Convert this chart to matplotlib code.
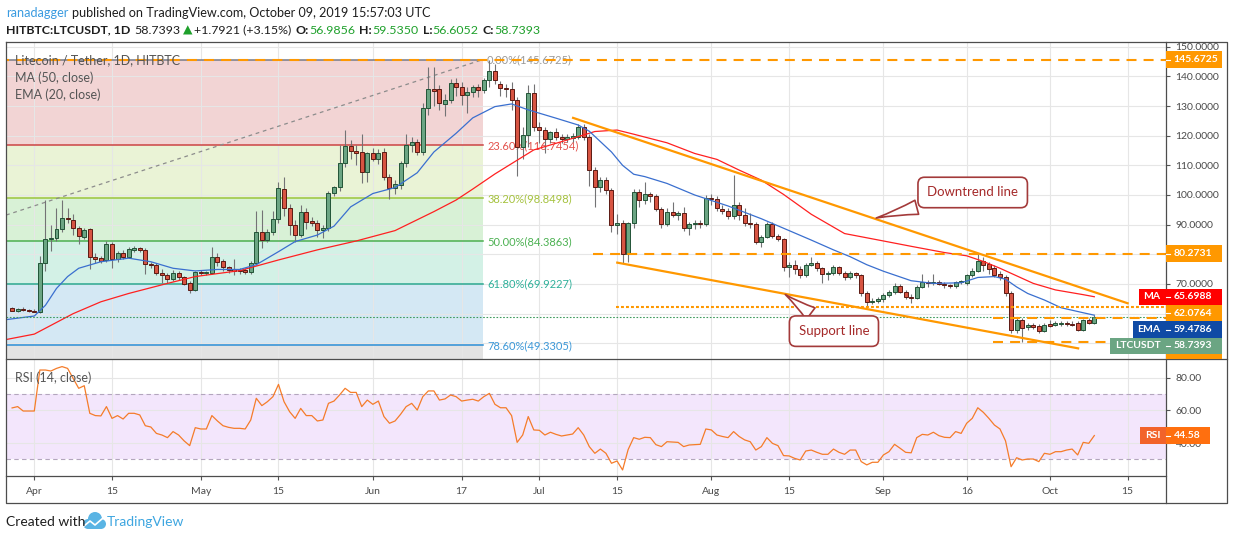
import matplotlib
matplotlib.use("Agg")
import matplotlib.pyplot as plt
import matplotlib.dates as mdates
from matplotlib.patches import Rectangle, Circle
import numpy as np
import pandas as pd

W, H = 1234, 540
plt.rcParams['font.family'] = ['Lato', 'DejaVu Sans']

# ---------------- values ----------------
first_day = "2019-03-28"   # one candle per day up to 2019-10-09

opens = [61.8, 61.0, 61.6, 61.2, 61.0, 60.7, 77.0, 85.2, 85.6, 88.4,
         92.3, 91.6, 88.8, 86.0, 88.4, 79.0, 78.6, 78.1, 83.4, 78.3,
         80.6, 79.2, 81.5, 82.0, 81.5, 76.7, 76.4, 73.8, 73.0, 71.7,
         73.8, 72.2, 70.2, 68.0, 74.1, 73.6, 73.8, 79.2, 77.9, 75.6,
         74.9, 74.7, 74.7, 74.1, 77.2, 87.6, 84.8, 87.6, 91.8, 101.9,
         95.5, 89.9, 86.5, 94.4, 91.4, 90.7, 88.2, 88.8, 100.6, 102.6,
         110.7, 116.6, 114.8, 114.6, 107.9, 114.0, 112.3, 114.6, 106.2, 102.2,
         103.4, 110.7, 116.9, 118.0, 114.6, 129.2, 135.6, 135.6, 130.7, 132.0,
         137.6, 136.5, 133.7, 134.8, 136.3, 135.4, 138.8, 141.9, 137.4, 136.0,
         135.7, 132.0, 116.3, 120.2, 134.3, 123.0, 121.8, 118.8, 121.3, 119.7,
         119.0, 119.3, 119.7, 122.8, 119.4, 108.4, 102.8, 105.0, 101.7, 89.9,
         90.4, 80.1, 90.4, 101.1, 98.3, 100.3, 99.8, 95.3, 90.2, 94.4,
         93.3, 94.0, 88.8, 90.2, 90.4, 90.2, 98.9, 98.5, 95.3, 94.6,
         92.9, 96.6, 93.3, 90.4, 90.1, 84.3, 86.0, 90.2, 86.2, 85.0,
         75.8, 76.4, 74.9, 73.0, 76.4, 77.2, 75.3, 73.4, 73.6, 75.6,
         73.8, 72.2, 73.6, 73.0, 66.8, 64.0, 64.4, 64.8, 66.3, 67.4,
         69.3, 67.4, 65.7, 65.2, 69.1, 70.8, 70.2, 70.8, 70.0, 69.5,
         69.3, 70.7, 70.2, 73.0, 74.5, 77.9, 76.7, 75.3, 73.4, 72.2,
         66.8, 54.5, 57.9, 55.4, 56.2, 55.8, 54.3, 56.5, 56.2, 56.6,
         56.8, 56.6, 57.0, 54.5, 57.7, 56.9856]
highs = [62.3, 62.0, 62.2, 61.6, 61.5, 79.5, 98.3, 90.0, 95.5, 98.3,
         95.5, 93.5, 89.5, 89.0, 89.0, 80.5, 79.5, 84.5, 84.3, 81.2,
         81.5, 82.5, 82.8, 82.6, 82.0, 77.5, 77.0, 75.0, 73.8, 74.8,
         74.5, 72.8, 71.0, 74.5, 74.8, 74.5, 82.5, 80.5, 78.5, 76.2,
         78.5, 75.5, 75.3, 77.8, 94.5, 95.0, 88.5, 94.5, 104.5, 106.0,
         97.0, 91.5, 96.5, 95.5, 92.5, 91.5, 90.0, 101.5, 103.0, 117.0,
         121.9, 118.5, 117.0, 120.5, 114.5, 116.0, 115.5, 116.0, 107.0, 105.0,
         111.5, 120.5, 119.5, 119.0, 131.0, 143.3, 143.3, 137.0, 134.0, 139.0,
         139.5, 138.0, 136.5, 137.0, 137.5, 139.5, 145.6, 144.0, 138.5, 137.5,
         138.0, 133.0, 123.0, 137.1, 137.5, 124.5, 123.0, 121.5, 122.5, 120.5,
         120.5, 121.0, 123.8, 124.0, 120.5, 109.5, 106.0, 106.0, 102.5, 93.5,
         91.5, 91.0, 102.0, 102.0, 104.5, 101.0, 100.5, 96.0, 95.5, 97.5,
         94.5, 96.0, 91.0, 91.5, 91.5, 100.0, 100.5, 99.5, 96.5, 95.5,
         106.7, 97.5, 95.5, 94.0, 91.0, 86.5, 91.0, 90.8, 87.0, 85.5,
         77.5, 78.0, 76.0, 77.0, 79.0, 77.8, 75.8, 74.5, 76.5, 76.0,
         74.5, 74.5, 74.0, 73.5, 67.5, 65.2, 65.5, 67.0, 68.0, 70.5,
         70.0, 68.0, 66.5, 69.5, 73.5, 71.5, 73.5, 71.5, 70.8, 70.0,
         71.0, 71.5, 73.5, 75.5, 80.6, 79.0, 77.5, 76.5, 74.5, 73.0,
         67.5, 58.5, 58.5, 57.0, 57.0, 56.5, 56.8, 58.0, 57.5, 57.5,
         57.5, 57.5, 57.6, 58.3, 58.5, 59.535]
lows = [60.8, 60.7, 60.9, 60.6, 60.4, 60.2, 74.5, 81.0, 84.5, 87.5,
        90.5, 86.5, 83.5, 85.0, 75.0, 77.0, 77.0, 77.5, 75.3, 77.5,
        78.5, 78.8, 80.7, 80.8, 73.5, 75.5, 73.0, 70.2, 70.5, 71.0,
        71.5, 69.5, 66.8, 67.5, 73.0, 73.0, 73.5, 76.0, 74.5, 73.8,
        73.0, 73.5, 73.2, 73.5, 76.5, 82.0, 84.0, 86.5, 90.5, 93.0,
        86.5, 84.2, 85.8, 88.5, 89.5, 86.0, 85.5, 88.0, 99.5, 101.5,
        109.5, 112.0, 110.0, 104.0, 104.5, 111.5, 110.5, 105.0, 98.5, 100.5,
        102.0, 109.5, 114.5, 113.5, 113.5, 127.0, 130.0, 128.5, 126.5, 131.0,
        133.5, 130.5, 127.5, 133.0, 133.0, 134.5, 136.5, 137.5, 133.5, 133.0,
        128.5, 106.5, 112.0, 116.3, 121.5, 117.5, 114.0, 117.5, 118.5, 117.5,
        118.0, 118.0, 119.0, 118.5, 103.0, 96.0, 101.0, 100.5, 87.5, 87.0,
        77.2, 77.5, 89.0, 96.0, 97.0, 97.5, 94.5, 89.0, 89.5, 92.5,
        91.5, 88.0, 86.5, 88.5, 89.0, 89.5, 96.5, 94.5, 93.5, 92.0,
        92.0, 91.5, 89.5, 89.0, 83.5, 82.5, 85.5, 85.5, 84.5, 74.5,
        72.5, 73.5, 72.0, 72.5, 76.0, 74.5, 70.5, 71.5, 73.0, 73.0,
        71.5, 71.8, 72.0, 66.0, 62.4, 63.2, 63.5, 64.0, 65.5, 66.5,
        66.8, 65.0, 63.5, 64.8, 68.5, 69.0, 69.5, 69.5, 68.5, 68.5,
        68.8, 70.0, 69.8, 72.5, 74.0, 74.5, 73.5, 72.5, 71.5, 66.0,
        53.5, 53.5, 50.6, 54.5, 54.8, 53.5, 53.8, 55.5, 55.8, 56.0,
        56.0, 56.0, 54.0, 54.0, 56.6, 56.6052]
closes = [61.0, 61.6, 61.2, 61.0, 60.7, 77.0, 85.2, 85.6, 88.4, 92.1,
          91.8, 88.8, 86.2, 88.2, 79.0, 78.3, 77.9, 83.4, 78.3, 80.6,
          79.0, 81.7, 82.0, 81.5, 76.7, 76.4, 73.8, 73.0, 71.7, 73.8,
          72.2, 70.0, 68.0, 74.1, 73.6, 74.1, 79.2, 77.5, 75.6, 74.7,
          74.5, 74.5, 74.1, 77.2, 87.6, 84.8, 87.6, 91.8, 102.2, 95.5,
          89.9, 86.5, 94.4, 91.0, 90.7, 88.2, 88.8, 100.6, 102.6, 110.7,
          116.6, 114.8, 114.3, 107.9, 114.0, 112.3, 114.3, 106.2, 102.2, 103.8,
          110.7, 116.9, 118.0, 114.6, 129.2, 135.6, 135.2, 130.9, 132.0, 137.6,
          136.5, 133.7, 134.8, 136.3, 135.4, 138.8, 141.9, 138.8, 136.0, 135.7,
          132.0, 116.3, 120.2, 134.3, 123.0, 121.8, 118.8, 121.3, 119.7, 119.0,
          119.7, 120.0, 122.8, 119.4, 108.4, 102.8, 105.0, 101.7, 89.9, 90.7,
          80.1, 90.4, 101.1, 98.3, 100.3, 99.8, 95.3, 90.2, 94.4, 93.3,
          94.0, 88.8, 90.2, 90.4, 90.2, 98.9, 98.5, 95.5, 94.6, 92.9,
          96.6, 93.3, 90.4, 90.1, 84.3, 86.0, 90.2, 86.2, 85.0, 75.8,
          76.4, 74.9, 73.0, 76.4, 77.2, 75.3, 73.4, 73.8, 75.6, 73.8,
          72.2, 73.6, 73.0, 66.8, 64.0, 64.4, 64.8, 66.3, 67.4, 69.3,
          67.4, 65.7, 65.2, 69.1, 70.8, 70.2, 70.8, 70.0, 69.5, 69.3,
          70.7, 70.8, 73.0, 74.5, 77.9, 76.4, 74.9, 73.0, 72.5, 66.8,
          54.5, 57.9, 55.0, 56.2, 55.4, 54.3, 56.2, 55.8, 57.0, 57.0,
          56.6, 56.2, 54.5, 57.7, 56.99, 58.7393]

rsi = [61.5, 62.3, 59.6, 59.6, 59.6, 84.7, 84.7, 84.1, 85.7, 86.8,
       85.7, 79.6, 73.5, 75.1, 58.2, 56.8, 56.6, 62.3, 55.1, 56.8,
       54.7, 58.2, 58.2, 57.2, 50.6, 49.8, 45.9, 44.9, 43.3, 47.0,
       44.9, 41.3, 38.4, 49.4, 48.6, 48.6, 56.8, 53.5, 50.6, 49.6,
       49.0, 49.0, 48.6, 54.1, 67.4, 62.9, 65.3, 68.4, 75.9, 65.3,
       59.2, 55.1, 61.2, 56.8, 56.8, 53.5, 54.1, 64.3, 65.7, 69.4,
       73.5, 71.0, 71.0, 62.3, 66.3, 63.7, 65.7, 56.2, 52.1, 53.5,
       57.6, 62.3, 64.3, 60.2, 68.4, 71.9, 71.9, 66.3, 67.0, 69.4,
       68.4, 65.7, 66.3, 66.8, 65.7, 68.4, 70.4, 63.7, 61.6, 61.6,
       56.8, 40.4, 44.9, 56.2, 48.0, 47.8, 44.9, 46.6, 45.3, 44.3,
       44.9, 45.5, 49.4, 44.9, 37.8, 33.7, 36.3, 33.7, 27.6, 29.0,
       23.5, 36.0, 43.3, 42.3, 43.5, 43.3, 39.0, 37.8, 40.8, 40.6,
       40.4, 37.8, 38.8, 39.0, 39.2, 48.6, 48.0, 44.9, 44.0, 43.3,
       47.0, 44.0, 41.9, 40.8, 35.7, 37.8, 43.3, 39.8, 38.4, 32.3,
       32.1, 30.6, 29.6, 35.1, 35.7, 34.3, 33.1, 33.1, 36.3, 34.3,
       33.1, 35.7, 35.7, 28.6, 26.6, 28.2, 28.2, 32.7, 34.7, 39.2,
       36.8, 34.3, 34.0, 43.3, 45.3, 44.9, 46.6, 44.5, 43.5, 43.3,
       47.0, 45.9, 52.1, 55.1, 61.6, 58.8, 55.1, 51.0, 48.6, 41.3,
       25.5, 31.0, 29.6, 30.2, 30.2, 28.6, 33.7, 33.1, 34.7, 34.7,
       35.7, 36.3, 32.7, 40.4, 39.8, 44.58]

ma_dates = ['2019-03-27', '2019-04-01', '2019-04-08', '2019-04-13', '2019-04-18',
            '2019-04-25', '2019-04-30', '2019-05-08', '2019-05-15', '2019-05-22',
            '2019-05-29', '2019-06-05', '2019-06-12', '2019-06-16', '2019-06-19',
            '2019-06-23', '2019-06-30', '2019-07-07', '2019-07-11', '2019-07-15',
            '2019-07-18', '2019-07-24', '2019-07-29', '2019-08-02', '2019-08-06',
            '2019-08-10', '2019-08-14', '2019-08-19', '2019-08-25', '2019-09-01',
            '2019-09-06', '2019-09-12', '2019-09-16', '2019-09-19', '2019-09-22',
            '2019-09-24', '2019-09-28', '2019-10-02', '2019-10-07', '2019-10-09']
ma_vals = [51.3, 53.1, 60.0, 64.0, 66.8, 70.2, 72.5, 74.5, 78.1, 81.5,
           84.5, 88.0, 94.4, 98.3, 102.0, 107.1, 115.2, 119.1, 121.4, 121.9,
           120.5, 117.6, 114.0, 112.0, 108.4, 105.0, 100.2, 93.5, 87.0, 84.5,
           82.7, 80.6, 79.5, 77.6, 75.3, 73.6, 70.2, 68.0, 66.4, 65.6988]

ema_dates = ['2019-03-27', '2019-04-01', '2019-04-03', '2019-04-05', '2019-04-07',
             '2019-04-09', '2019-04-13', '2019-04-18', '2019-04-22', '2019-04-26',
             '2019-04-30', '2019-05-04', '2019-05-08', '2019-05-11', '2019-05-15',
             '2019-05-18', '2019-05-22', '2019-05-25', '2019-05-28', '2019-06-01',
             '2019-06-05', '2019-06-09', '2019-06-12', '2019-06-16', '2019-06-19',
             '2019-06-23', '2019-06-26', '2019-06-29', '2019-07-04', '2019-07-08',
             '2019-07-10', '2019-07-12', '2019-07-14', '2019-07-16', '2019-07-18',
             '2019-07-20', '2019-07-24', '2019-07-29', '2019-08-04', '2019-08-10',
             '2019-08-15', '2019-08-19', '2019-08-23', '2019-08-26', '2019-08-29',
             '2019-09-01', '2019-09-06', '2019-09-10', '2019-09-15', '2019-09-18',
             '2019-09-21', '2019-09-23', '2019-09-25', '2019-09-27', '2019-09-30',
             '2019-10-03', '2019-10-07', '2019-10-09']
ema_vals = [58.0, 59.2, 62.8, 68.5, 72.5, 75.3, 77.5, 78.7, 77.5, 75.3,
            74.4, 74.9, 74.9, 76.5, 80.9, 84.3, 86.5, 89.5, 96.0, 100.5,
            102.5, 107.5, 114.5, 120.8, 126.0, 129.8, 130.7, 128.7, 125.9, 123.6,
            121.5, 118.0, 114.5, 110.0, 107.0, 106.2, 103.9, 100.0, 96.3, 92.0,
            88.0, 84.8, 81.5, 79.2, 76.5, 74.3, 71.1, 70.2, 70.4, 72.2,
            72.5, 71.6, 69.0, 66.8, 64.6, 62.0, 60.3, 59.4786]

# Fibonacci retracement drawing
fib_ratios = [0.0, 0.236, 0.382, 0.5, 0.618, 0.786, 1.0]
fib_prices = [145.6725, 116.7454, 98.8498, 84.3863, 69.9227, 49.3305, 23.10]
fib_span = ['2018-12-02 00:00', '2019-06-20 20:00']

# horizontal drawings: level, start, style
level_vals = [145.6725, 80.2731, 62.0764, 58.4, 50.4]
level_starts = ['2019-03-20 00:00', '2019-07-10 16:00', '2019-07-14 19:00',
                '2019-09-20 19:00', '2019-09-20 19:00']
level_styles = ['dash', 'dash', 'dot', 'dash', 'dash']

downtrend_dates = ['2019-07-07 02:00', '2019-10-15 00:00']
downtrend_vals = [126.0, 63.5]
support_dates = ['2019-07-15 01:00', '2019-10-06 02:00']
support_vals = [77.2, 48.3]

price_ticks = [50, 60, 70, 80, 90, 100, 110, 120, 130, 140, 150]
rsi_ticks = [40, 60, 80]
date_ticks = ['2019-04-01', '2019-04-15', '2019-05-01', '2019-05-15', '2019-06-01',
              '2019-06-17', '2019-07-01', '2019-07-15', '2019-08-01', '2019-08-15',
              '2019-09-01', '2019-09-16', '2019-10-01', '2019-10-15']
date_labels = ['Apr', '15', 'May', '15', 'Jun', '17', 'Jul', '15', 'Aug', '15',
               'Sep', '16', 'Oct', '15']

# ---------------- layout (pixels) ----------------
L, R, SR = 6.3, 1165.7, 1227.0
TOP, MID, BOT, AXB = 42.0, 359.3, 476.3, 503.3


def frac(x0, y0, x1, y1):
    return [x0 / W, 1 - y1 / H, (x1 - x0) / W, (y1 - y0) / H]


def dn(s):
    if isinstance(s, str):
        return mdates.date2num(pd.Timestamp(s))
    return mdates.date2num(pd.to_datetime(s, format='mixed'))


fig = plt.figure(figsize=(W / 100, H / 100), dpi=100)
ax = fig.add_axes(frac(L, TOP, R, MID))
ax_rsi = fig.add_axes(frac(L, MID, R, BOT), sharex=ax)

d0 = dn('2019-04-01')
ax.set_xlim(d0 - 5.045, d0 + 203.86)
ax.set_ylim(44.61, 151.58)
ax_rsi.set_ylim(19.62, 91.27)

grid_c = '#e6e6e6'
for a in (ax, ax_rsi):
    for s in a.spines.values():
        s.set_visible(False)
    a.set_xticks(dn(date_ticks))
    a.grid(True, color=grid_c, lw=0.8)
    a.set_axisbelow(True)
    a.yaxis.tick_right()
    a.tick_params(axis='y', length=3, width=0.8, pad=4, labelsize=7.5,
                  color='#555555', labelcolor='#4a4a4a')
ax.tick_params(axis='x', length=0, labelbottom=False)
ax.set_yticks(price_ticks)
ax.set_yticklabels([f'{t:.4f}' for t in price_ticks])
ax_rsi.set_yticks(rsi_ticks)
ax_rsi.set_yticklabels([f'{t:.2f}' for t in rsi_ticks])
ax_rsi.set_xticklabels(date_labels)
ax_rsi.tick_params(axis='x', length=3, width=0.8, pad=5, labelsize=7.5,
                   color='#555555', labelcolor='#4a4a4a')

# fib retracement
fib_lines = ['#787b86', '#cc4444', '#9bc53d', '#4caf50', '#2aa891', '#2d8fd5', '#787b86']
fib_fills = [None, '#f2d4d4', '#eaf3d6', '#d8f1d6', '#d3f1e6', '#d4e8f4', '#e3e3e3']
fib_text = ['#9a9a9a', '#e2514c', '#a5c23d', '#4cb152', '#2eb09a', '#3c98d8']
fx = dn(fib_span)
for i in range(1, len(fib_prices)):
    ax.fill_between(fx, fib_prices[i], fib_prices[i - 1], color=fib_fills[i], lw=0, zorder=0.2)
for i in range(len(fib_prices) - 1):
    ax.plot(fx, [fib_prices[i]] * 2, color=fib_lines[i], lw=1.1, zorder=1)
    ax.annotate(f'{fib_ratios[i] * 100:.2f}%({fib_prices[i]:.4f})', xy=(fx[1], fib_prices[i]),
                xytext=(3, 0), textcoords='offset points', va='center', ha='left',
                fontsize=8, color=fib_text[i], zorder=1.5)
ax.plot(fx, [fib_prices[-1], fib_prices[0]], color='#8c8c8c', lw=0.9, ls=(0, (3, 3)), zorder=1)

# candles
x = mdates.date2num(pd.date_range(first_day, periods=len(closes), freq='D'))
o, h, l, c = map(np.array, (opens, highs, lows, closes))
up = c >= o
ax.vlines(x, l, h, color='#737375', lw=0.8, zorder=3)
bot = np.minimum(o, c)
hgt = np.maximum(np.abs(c - o), 0.25)
ax.bar(x[up], hgt[up], bottom=bot[up], width=0.72, color='#6ba583',
       edgecolor='#225437', lw=0.7, zorder=4)
ax.bar(x[~up], hgt[~up], bottom=bot[~up], width=0.72, color='#d75442',
       edgecolor='#5b1a13', lw=0.7, zorder=4)

# moving averages
ax.plot(dn(ma_dates), ma_vals, color='#ff2020', lw=0.9, zorder=5)
ax.plot(dn(ema_dates), ema_vals, color='#3a6fcf', lw=0.9, zorder=5)

# current price line
ax.axhline(closes[-1], color='#3f9b5d', lw=0.8, ls=(0, (1.5, 1.5)), zorder=5)

# drawings
orange = '#ff9800'
xr = ax.get_xlim()[1]
for v, s, st in zip(level_vals, level_starts, level_styles):
    dash = (0, (4.8, 3.4)) if st == 'dash' else (0, (1.4, 1.0))
    ax.plot([dn(s), xr], [v, v], color=orange, lw=1.5, ls=dash, zorder=6,
            solid_capstyle='butt', dash_capstyle='butt')
ax.plot(dn(downtrend_dates), downtrend_vals, color=orange, lw=1.6, zorder=6)
ax.plot(dn(support_dates), support_vals, color=orange, lw=1.6, zorder=6)

cl_kw = dict(fontsize=9.5, color='#a52a2a', ha='center', va='center', zorder=8,
             bbox=dict(boxstyle='round,pad=0.7,rounding_size=0.5', fc='white',
                       ec='#a33a3a', lw=1.2))
ax.annotate('Downtrend line', xy=(dn('2019-08-30 05:00'), 92.0),
            xytext=(dn('2019-09-17 02:00'), 100.85),
            arrowprops=dict(arrowstyle='wedge,tail_width=1.1,shrink_factor=0.4',
                            fc='white', ec='#a33a3a', lw=1.2), **cl_kw)
ax.annotate('Support line', xy=(dn('2019-08-13 22:00'), 67.0),
            xytext=(dn('2019-08-23 02:00'), 54.1),
            arrowprops=dict(arrowstyle='wedge,tail_width=1.1,shrink_factor=0.4',
                            fc='white', ec='#a33a3a', lw=1.2), **cl_kw)

# RSI pane
ax_rsi.axhspan(30, 70, color='#f3e6fc', lw=0, zorder=0.2)
for v in (30, 70):
    ax_rsi.axhline(v, color='#b3a6bd', lw=0.8, ls=(0, (4, 3)), zorder=1)
ax_rsi.plot(x, rsi, color='#f57c2a', lw=0.9, zorder=3)

# ---------------- overlay in pixel space ----------------
ov = fig.add_axes([0, 0, 1, 1], zorder=20)
ov.set_xlim(0, W)
ov.set_ylim(H, 0)
ov.axis('off')
ov.patch.set_visible(False)
rend = fig.canvas.get_renderer()

frame = '#4d4d4d'
ov.plot([L, SR, SR, L, L], [TOP, TOP, AXB, AXB, TOP], color=frame, lw=0.9)
ov.plot([L, SR], [MID, MID], color=frame, lw=0.9)
ov.plot([L, R], [BOT, BOT], color=frame, lw=0.9)
ov.plot([R, R], [TOP, AXB], color=frame, lw=0.9)


def px_y(a, v):
    return H - a.transData.transform((a.get_xlim()[0], v))[1]


def scale_box(cy, v_txt, col, tag, w_right, bh, cut=None):
    top = cy - bh / 2
    bottom = cy + bh / 2 if cut is None else min(cy + bh / 2, cut)
    ov.add_patch(Rectangle((R + 0.6, top), w_right - R, bottom - top, color=col, lw=0, zorder=3))
    if cut is not None and cy + bh / 2 > cut + 1:
        return
    ov.plot([R, R + 4], [cy, cy], color='white', lw=0.8, zorder=4)
    ov.text(R + 8, cy, v_txt, color='white', fontsize=7.5, fontweight='bold',
            va='center', ha='left', zorder=5)
    if tag:
        t = ov.text(R - 5, cy, tag, color='white', fontsize=7.5, fontweight='bold',
                    va='center', ha='right', zorder=5)
        tw = t.get_window_extent(rend).width
        ov.add_patch(Rectangle((R - tw - 10, top), tw + 10, bh, color=col, lw=0, zorder=3))


items = [(145.6725, orange, None), (80.2731, orange, None), (ma_vals[-1], '#ff0000', 'MA'),
         (62.0764, orange, None), (ema_vals[-1], '#0f4aa5', 'EMA'),
         (closes[-1], '#6ba583', 'LTCUSDT'), (58.4, orange, None), (50.4, orange, None)]
BH = 16.4
prev = -1e9
for v, col, tag in items:
    cy = max(px_y(ax, v), prev + BH)
    prev = cy
    if cy - BH / 2 >= MID:
        continue
    scale_box(cy, f'{v:.4f}', col, tag, 1221, BH, cut=MID)

# RSI value box
cy = px_y(ax_rsi, rsi[-1])
ov.add_patch(Rectangle((R + 0.6, cy - BH / 2), 1209.7 - R, BH, color='#ff6f0f', lw=0, zorder=3))
ov.plot([R, R + 4], [cy, cy], color='white', lw=0.8, zorder=4)
ov.text(R + 8, cy, f'{rsi[-1]:.2f}', color='white', fontsize=7.5, fontweight='bold',
        va='center', zorder=5)
t = ov.text(R - 5, cy, 'RSI', color='white', fontsize=7.5, fontweight='bold',
            va='center', ha='right', zorder=5)
tw = t.get_window_extent(rend).width
ov.add_patch(Rectangle((R - tw - 10, cy - BH / 2), tw + 10, BH, color='#f2632a', lw=0, zorder=3))

# legends inside panes
leg_c = '#555555'
ov.text(15, 60, 'Litecoin / Tether, 1D, HITBTC', fontsize=9, color=leg_c, va='center')
ov.text(15, 78, 'MA (50, close)', fontsize=9, color=leg_c, va='center')
ov.text(15, 95, 'EMA (20, close)', fontsize=9, color=leg_c, va='center')
ov.text(15, 378, 'RSI (14, close)', fontsize=9, color=leg_c, va='center')


def runs(x0, y0, parts, size):
    xx = x0
    for txt, col, wt, gap in parts:
        tt = ov.text(xx, y0, txt, fontsize=size, color=col, fontweight=wt, va='center', ha='left')
        xx += tt.get_window_extent(rend).width + gap


dark = '#1e1e1e'
green = '#1ea02b'
runs(6, 13, [('ranadagger', '#3a9be0', 'normal', 4),
             ('published on TradingView.com, October 09, 2019 15:57:03 UTC', dark, 'normal', 0)], 9.1)
runs(6, 30, [('HITBTC:LTCUSDT, 1D', dark, 'bold', 4), ('58.7393', dark, 'normal', 2),
             ('\u25b2', green, 'normal', 2), ('+1.7921 (+3.15%)', dark, 'normal', 4),
             ('O:', dark, 'bold', 0.5), ('56.9856', green, 'normal', 4),
             ('H:', dark, 'bold', 0.5), ('59.5350', green, 'normal', 4),
             ('L:', dark, 'bold', 0.5), ('56.6052', green, 'normal', 4),
             ('C:', dark, 'bold', 0.5), ('58.7393', green, 'normal', 0)], 8.9)

# footer
ov.text(6, 522, 'Created with', fontsize=10, color=dark, va='center')
logo = '#5ab4e4'
for cx, cyy, r in [(88, 524, 5), (95, 519, 7), (101, 524, 5)]:
    ov.add_patch(Circle((cx, cyy), r, color=logo, lw=0))
ov.add_patch(Rectangle((88, 522), 13, 7, color=logo, lw=0))
ov.plot([84, 90, 95, 103], [526, 521, 525, 518], color='white', lw=1.2)
ov.text(107, 522, 'TradingView', fontsize=10, color='#3ea6e0', va='center')

fig.savefig('out.png', dpi=100, facecolor='white')
